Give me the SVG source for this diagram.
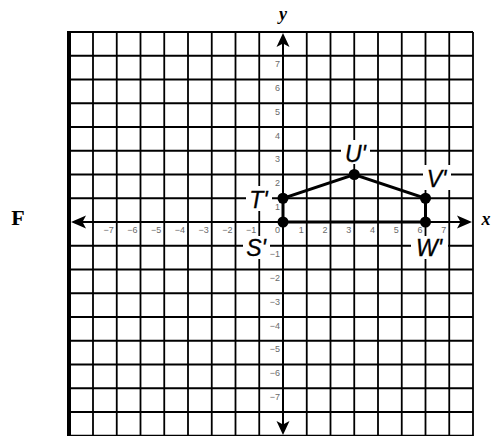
<svg xmlns="http://www.w3.org/2000/svg" width="492" height="436" viewBox="0 0 492 436">
<style>
.grid{stroke:#000;stroke-width:1.8;fill:none}
.edge{stroke:#000;stroke-width:3;fill:none}
.axis{stroke:#000;stroke-width:2;fill:none}
.tick{font-family:"Liberation Sans",Arial,sans-serif;font-size:9px;fill:#6a6a6a;text-anchor:end}
.lbl{font-family:"Liberation Sans",Arial,sans-serif;font-size:23px;font-style:italic;fill:#000;text-anchor:middle;stroke:#000;stroke-width:0.3}
.ax{font-family:"Liberation Serif","Times New Roman",serif;font-size:18px;font-style:italic;font-weight:bold;fill:#000;text-anchor:middle}
.bg{fill:#fff}
.dot{fill:#000}
</style>
<rect width="492" height="436" fill="#fff"/>
<g id="grid">
<path class="grid" d="M93,32V436M116.75,32V436M140.5,32V436M164.25,32V436M188,32V436M211.75,32V436M235.5,32V436M259.25,32V436M306.75,32V436M330.5,32V436M354.25,32V436M378,32V436M401.75,32V436M425.5,32V436M449.25,32V436M473,32V436"/>
<path class="grid" d="M69,32H473M69,55.75H473M69,79.5H473M69,103.25H473M69,127H473M69,150.75H473M69,174.5H473M69,198.25H473M69,245.75H473M69,269.5H473M69,293.25H473M69,317H473M69,340.75H473M69,364.5H473M69,388.25H473M69,412H473M69,435.75H473"/>
<line x1="69" y1="31" x2="69" y2="436" stroke="#000" stroke-width="4"/>
</g>
<g id="label-backgrounds">
<rect class="bg" x="246" y="186" width="26" height="25"/>
<rect class="bg" x="341" y="140" width="29" height="24"/>
<rect class="bg" x="423" y="165" width="28" height="25"/>
<rect class="bg" x="411" y="236" width="37" height="23"/>
<rect class="bg" x="243" y="236" width="27" height="23"/>
</g>
<g id="ticks">
<text class="tick" x="113.75" y="233">−7</text>
<text class="tick" x="137.5" y="233">−6</text>
<text class="tick" x="161.25" y="233">−5</text>
<text class="tick" x="185" y="233">−4</text>
<text class="tick" x="208.75" y="233">−3</text>
<text class="tick" x="232.5" y="233">−2</text>
<text class="tick" x="256.25" y="233">−1</text>
<text class="tick" x="280" y="233">0</text>
<text class="tick" x="303.75" y="233">1</text>
<text class="tick" x="327.5" y="233">2</text>
<text class="tick" x="351.25" y="233">3</text>
<text class="tick" x="375" y="233">4</text>
<text class="tick" x="398.75" y="233">5</text>
<text class="tick" x="422.5" y="233">6</text>
<text class="tick" x="446.25" y="233">7</text>
<text class="tick" x="280" y="67.25">7</text>
<text class="tick" x="280" y="91">6</text>
<text class="tick" x="280" y="114.75">5</text>
<text class="tick" x="280" y="138.5">4</text>
<text class="tick" x="280" y="162.25">3</text>
<text class="tick" x="280" y="186">2</text>
<text class="tick" x="280" y="209.75">1</text>
<text class="tick" x="280" y="257.25">−1</text>
<text class="tick" x="280" y="281">−2</text>
<text class="tick" x="280" y="304.75">−3</text>
<text class="tick" x="280" y="328.5">−4</text>
<text class="tick" x="280" y="352.25">−5</text>
<text class="tick" x="280" y="376">−6</text>
<text class="tick" x="280" y="399.75">−7</text>
</g>
<g id="axes">
<line class="axis" x1="76" y1="222" x2="466" y2="222"/>
<line class="axis" x1="283" y1="40" x2="283" y2="429"/>
<path d="M283,33L289.5,47L283,43.5L276.5,47Z"/>
<path d="M283,435L289.5,421L283,424.5L276.5,421Z"/>
<path d="M71,222L86,215.5L82.5,222L86,228.5Z"/>
<path d="M472,222L457,215.5L460.5,222L457,228.5Z"/>
<text class="ax" x="283" y="20">y</text>
<text class="ax" x="486" y="225">x</text>
<text x="18" y="225" font-family="Liberation Serif,'Times New Roman',serif" font-size="22" font-weight="bold" text-anchor="middle">F</text>
</g>
<g id="connectors">
<path class="edge" d="M283,222V198.25L354.25,174.5L425.5,198.25V222Z"/>
</g>
<g id="node-T"><circle class="dot" cx="283" cy="198.25" r="5.5"/><text class="lbl" x="258.5" y="208">T'</text></g>
<g id="node-U"><circle class="dot" cx="354.25" cy="174.5" r="5.5"/><text class="lbl" x="355.5" y="162">U'</text></g>
<g id="node-V"><circle class="dot" cx="425.5" cy="198.25" r="5.5"/><text class="lbl" x="436.5" y="187">V'</text></g>
<g id="node-W"><circle class="dot" cx="425.5" cy="222" r="5.5"/><text class="lbl" x="429" y="256">W'</text></g>
<g id="node-S"><circle class="dot" cx="283" cy="222" r="5.5"/><text class="lbl" x="256" y="256">S'</text></g>
</svg>
